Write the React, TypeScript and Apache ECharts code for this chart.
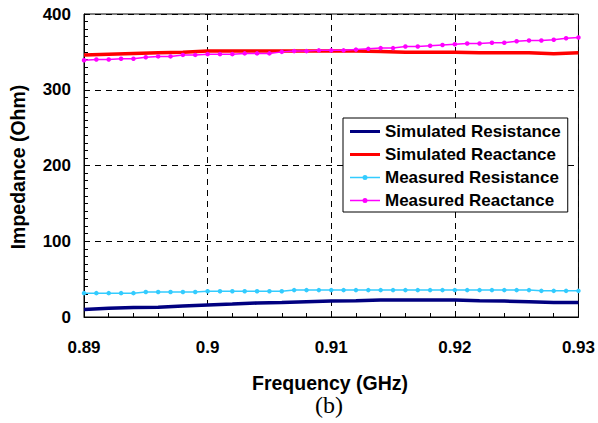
import React, { useEffect, useRef } from "react";
import * as echarts from "echarts";

const measFreq: number[] = [
  0.89, 0.891, 0.892, 0.893, 0.894, 0.895, 0.896, 0.897, 0.898, 0.899,
  0.9, 0.901, 0.902, 0.903, 0.904, 0.905, 0.906, 0.907, 0.908, 0.909,
  0.91, 0.911, 0.912, 0.913, 0.914, 0.915, 0.916, 0.917, 0.918, 0.919,
  0.92, 0.921, 0.922, 0.923, 0.924, 0.925, 0.926, 0.927, 0.928, 0.929, 0.93,
];
const measuredResistance: number[] = [
  31.5, 31.5, 31.5, 31.5, 31.5, 33, 33, 33, 33, 33,
  34, 34, 34, 34, 34, 34, 34, 35.5, 35.5, 35.5,
  35.5, 35.5, 35.5, 35.5, 35.5, 35.5, 35.5, 35.5, 35.5, 35.5,
  35.5, 35.5, 35.5, 35.5, 35.5, 35.5, 35.5, 34.5, 34.5, 34.5, 34.5,
];
const measuredReactance: number[] = [
  339, 340, 340, 341, 341, 343, 344, 344, 346, 346,
  347, 347, 347, 348, 348, 348, 350, 351, 351, 352,
  352, 352, 353, 354, 355, 355, 357, 357, 358, 359,
  360, 361, 361, 362, 362, 364, 365, 365, 366, 368, 369,
];

const simFreq: number[] = [
  0.89, 0.892, 0.894, 0.896, 0.898, 0.9, 0.902, 0.904, 0.906, 0.908, 0.91,
  0.912, 0.914, 0.916, 0.918, 0.92, 0.922, 0.924, 0.926, 0.928, 0.93,
];
const simulatedResistance: number[] = [
  10, 11.5, 12.5, 13, 14.5, 16, 17, 18.5, 19, 20, 21,
  21.5, 22.5, 22.5, 22.5, 22.5, 21.5, 21, 20, 19, 19,
];
const simulatedReactance: number[] = [
  346, 347, 348, 349, 349.5, 351, 351, 351, 351, 351, 351,
  351, 350.5, 349.5, 349.5, 349.5, 349, 349, 349, 347.5, 349,
];

const seriesNames = [
  "Simulated Resistance",
  "Simulated Reactance",
  "Measured Resistance",
  "Measured Reactance",
];

const pair = (xs: number[], ys: number[]) => xs.map((x, i) => [x, ys[i]]);

// legend icons drawn in a 30x16 box (corner dots keep the box size)
const ICON_THICK = "path://M0,0L0.01,0M30,16L29.99,16M0,6.5L30,6.5L30,9.5L0,9.5Z";
const ICON_MARK =
  "path://M0,0L0.01,0M30,16L29.99,16M0,7.2L30,7.2L30,8.8L0,8.8ZM12.5,8a2.5,2.5 0 1,1 5,0a2.5,2.5 0 1,1 -5,0Z";

export default function App() {
  const ref = useRef<HTMLDivElement>(null);
  useEffect(() => {
    if (!ref.current) return;
    const chart = echarts.init(ref.current, undefined, { renderer: "svg" });
    const font = "'Liberation Sans', Arial, sans-serif";
    chart.setOption({
      animation: false,
      backgroundColor: "#ffffff",
      grid: {
        left: 84,
        top: 14,
        width: 495,
        height: 303,
        show: true,
        borderColor: "#000",
        borderWidth: 1,
        backgroundColor: "transparent",
      },
      xAxis: {
        type: "value",
        min: 0.89,
        max: 0.93,
        interval: 0.01,
        axisLine: { show: true, lineStyle: { color: "#000", width: 1 } },
        axisTick: { show: true, inside: true, length: 5, lineStyle: { color: "#000" } },
        minorTick: { show: true, splitNumber: 5, length: 4, lineStyle: { color: "#000" } },
        splitLine: { show: true, lineStyle: { color: "#000", type: [6, 5], width: 1 } },
        axisLabel: {
          color: "#000",
          fontFamily: font,
          fontWeight: "bold",
          fontSize: 17,
          margin: 22,
          formatter: (v: number) => parseFloat(v.toFixed(3)).toString(),
        },
      },
      yAxis: {
        type: "value",
        min: 0,
        max: 400,
        interval: 100,
        axisLine: { show: true, lineStyle: { color: "#000", width: 1 } },
        axisTick: { show: true, inside: true, length: 5, lineStyle: { color: "#000" } },
        minorTick: { show: true, splitNumber: 10, length: 4, lineStyle: { color: "#000" } },
        splitLine: { show: true, lineStyle: { color: "#000", type: [6, 5], width: 1 } },
        axisLabel: {
          color: "#000",
          fontFamily: font,
          fontWeight: "bold",
          fontSize: 17,
          margin: 13,
        },
      },
      legend: {
        orient: "vertical",
        left: 343,
        top: 118,
        data: [
          { name: seriesNames[0], icon: ICON_THICK },
          { name: seriesNames[1], icon: ICON_THICK },
          { name: seriesNames[2], icon: ICON_MARK },
          { name: seriesNames[3], icon: ICON_MARK },
        ],
        backgroundColor: "#fff",
        borderColor: "#000",
        borderWidth: 1,
        borderRadius: 0,
        padding: [5, 7, 3, 7],
        itemGap: 6,
        itemWidth: 30,
        itemHeight: 16,
        textStyle: { color: "#000", fontFamily: font, fontWeight: "bold", fontSize: 17 },
      },
      graphic: [
        {
          type: "text",
          x: 18,
          y: 167,
          rotation: Math.PI / 2,
          style: {
            text: "Impedance (Ohm)",
            fontFamily: font,
            fontWeight: "bold",
            fontSize: 19.5,
            fill: "#000",
            align: "center",
            verticalAlign: "middle",
          },
        },
        {
          type: "text",
          x: 330,
          y: 383,
          style: {
            text: "Frequency (GHz)",
            fontFamily: font,
            fontWeight: "bold",
            fontSize: 19.5,
            fill: "#000",
            align: "center",
            verticalAlign: "middle",
          },
        },
        {
          type: "text",
          x: 329,
          y: 405,
          style: {
            text: "(b)",
            fontFamily: "'Liberation Serif', 'Times New Roman', serif",
            fontSize: 24,
            fill: "#000",
            align: "center",
            verticalAlign: "middle",
          },
        },
      ],
      series: [
        {
          name: seriesNames[0],
          type: "line",
          data: pair(simFreq, simulatedResistance),
          showSymbol: false,
          symbol: "none",
          lineStyle: { color: "#000080", width: 3.5 },
          itemStyle: { color: "#000080" },
          z: 3,
        },
        {
          name: seriesNames[1],
          type: "line",
          data: pair(simFreq, simulatedReactance),
          showSymbol: false,
          symbol: "none",
          lineStyle: { color: "#ff0000", width: 3.5 },
          itemStyle: { color: "#ff0000" },
          z: 3,
        },
        {
          name: seriesNames[2],
          type: "line",
          data: pair(measFreq, measuredResistance),
          symbol: "circle",
          symbolSize: 4.5,
          lineStyle: { color: "#33ccff", width: 1.5 },
          itemStyle: { color: "#33ccff" },
          z: 4,
        },
        {
          name: seriesNames[3],
          type: "line",
          data: pair(measFreq, measuredReactance),
          symbol: "circle",
          symbolSize: 4.5,
          lineStyle: { color: "#ff00ff", width: 1.5 },
          itemStyle: { color: "#ff00ff" },
          z: 4,
        },
      ],
    });
    return () => chart.dispose();
  }, []);
  return (
    <div
      ref={ref}
      style={{ position: "fixed", left: 0, top: 0, width: 598, height: 423, background: "#fff" }}
    />
  );
}
